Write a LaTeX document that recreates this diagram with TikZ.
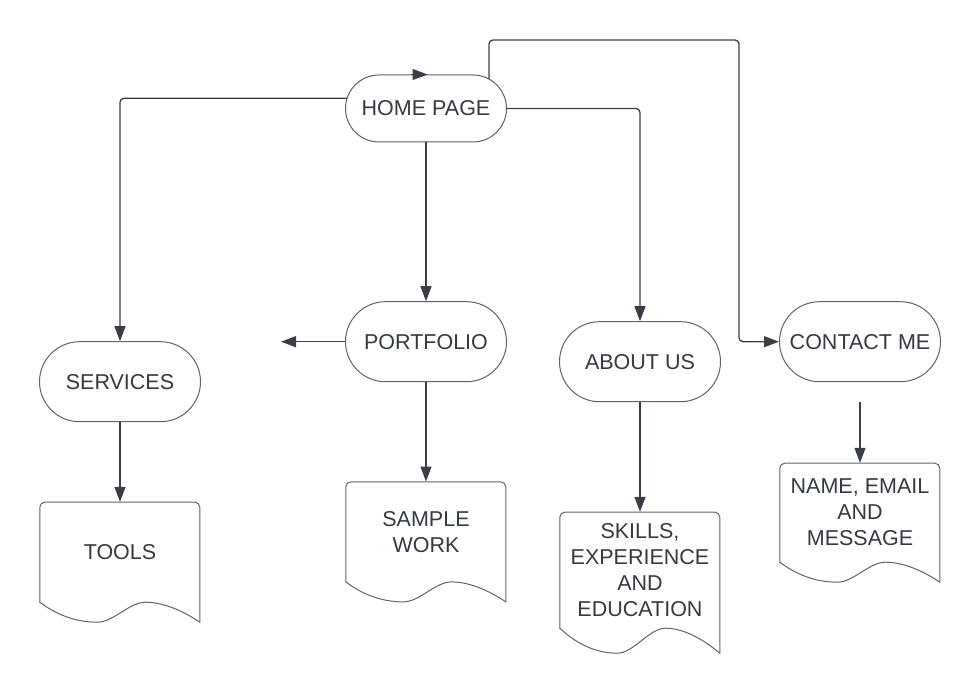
\documentclass[tikz,border=0pt]{standalone}
\usepackage{fontspec}
\setmainfont{Liberation Sans}
\usetikzlibrary{arrows.meta,calc}
\definecolor{txt}{RGB}{52,57,66}
\definecolor{lnc}{RGB}{58,63,71}
\definecolor{brd}{RGB}{95,99,105}
\tikzset{
  term/.style={rectangle, rounded corners=40pt, draw=brd, line width=1pt, fill=white,
    minimum width=161pt, minimum height=80pt, inner sep=0pt, text=txt,
    font=\fontsize{21.5}{26}\selectfont},
  docbox/.style={rectangle, draw=none, minimum width=160pt, inner sep=0pt, text=txt,
    align=center, font=\fontsize{21.5}{26}\selectfont},
  docline/.style={draw=brd, line width=1pt, line cap=round, line join=round},
  conn/.style={draw=lnc, line width=1.3pt, rounded corners=4pt,
    -{Triangle[length=15pt,width=11pt]}},
}
\newcommand\docoutline[3]{%
  \begin{scope}[shift={(#1.south west)}]
    \draw[docline, rounded corners=5pt] (0,0) -- (0,-#2) -- (160,-#2) -- (160,#3);
    \draw[docline] (160,#3) .. controls (140.8,{0.35*#3}) and (121.6,0) .. (105.6,0)
      .. controls (89.6,0) and (73.6,#3) .. (57.6,#3)
      .. controls (35.2,#3) and (16,{0.6*#3}) .. (0,0);
  \end{scope}}
\begin{document}
\begin{tikzpicture}[x=1pt,y=-1pt]
\useasboundingbox (0,0) rectangle (980,692);
% terminals
\node[term, rounded corners=33.5pt, minimum height=67pt] (home) at (426,108.5) {HOME PAGE};
\node[term] (portfolio) at (426,341.7) {PORTFOLIO};
\node[term] (services) at (120,381.7) {SERVICES};
\node[term] (about) at (640,361.7) {ABOUT US};
\node[term] (contact) at (860,341.7) {CONTACT ME};
% documents
\node[docbox, minimum height=100pt] (tools) at (120,552) {TOOLS};
\docoutline{tools}{100}{20}
\node[docbox, minimum height=100pt] (sample) at (426,531.7) {SAMPLE\\WORK};
\docoutline{sample}{100}{20}
\node[docbox, minimum height=116pt] (skills) at (640,570) {SKILLS,\\EXPERIENCE\\AND\\EDUCATION};
\docoutline{skills}{116}{25}
\node[docbox, minimum height=99pt] (name) at (860,512.5) {NAME, EMAIL\\AND\\MESSAGE};
\docoutline{name}{99}{20}
% connectors
\coordinate (hl) at ($(home.center)+(-79,-10.2)$);
\draw[conn] (hl) -| (services.north);
\draw[conn] (home.south) -- (portfolio.north);
\draw[conn] (home.east) -| (about.north);
\coordinate (hr) at ($(home.center)+(63,-29.3)$);
\coordinate (tr) at (739,40);
\draw[conn] (hr) |- (tr) |- (contact.west);
\coordinate (ha) at ($(home.north)+(-15,0)$);
\draw[conn, shorten >=-1.5pt] (ha) -- (home.north);
\coordinate (pl) at (281,341.7);
\draw[conn] (portfolio.west) -- (pl);
\draw[conn] (services.south) -- (tools.north);
\draw[conn] (portfolio.south) -- (sample.north);
\draw[conn] (about.south) -- (skills.north);
\coordinate (ct) at (860,401.7);
\draw[conn] (ct) -- (name.north);
\end{tikzpicture}
\end{document}
